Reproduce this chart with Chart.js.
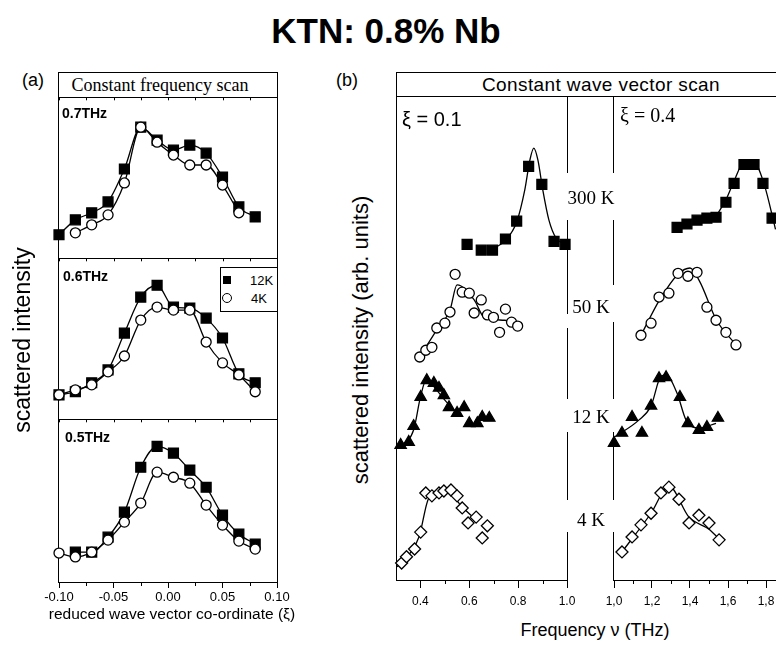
<!DOCTYPE html>
<html><head><meta charset="utf-8">
<script src="https://cdn.jsdelivr.net/npm/chart.js@4.4.1/dist/chart.umd.min.js"></script>
<style>
html,body{margin:0;padding:0;background:#fff;}
#wrap{position:relative;width:776px;height:647px;overflow:hidden;background:#fff;font-family:"Liberation Sans",Arial,sans-serif;color:#000;}
canvas{position:absolute;}
.t{position:absolute;white-space:nowrap;line-height:1;transform:translate(-50%,-50%);}
.tl{position:absolute;white-space:nowrap;line-height:1;transform:translate(0,-50%);}
.rot{position:absolute;white-space:nowrap;line-height:1;transform:translate(-50%,-50%) rotate(-90deg);}
.serif{font-family:"Liberation Serif","Times New Roman",serif;}
.ln{position:absolute;background:#000;}
.box{position:absolute;border:1px solid #000;box-sizing:border-box;}
</style></head>
<body><div id="wrap">
<div class="t" style="left:386px;top:30px;font-size:35px;font-weight:bold;">KTN: 0.8% Nb</div>
<div class="t" style="left:33px;top:80px;font-size:18px;">(a)</div>
<div class="t" style="left:347px;top:80px;font-size:18px;">(b)</div>

<!-- panel (a) frame -->
<div class="box" style="left:58px;top:72px;width:220px;height:511px;"></div>
<div class="ln" style="left:58px;top:97px;width:220px;height:1px;"></div>
<div class="ln" style="left:58px;top:258px;width:220px;height:1px;"></div>
<div class="ln" style="left:58px;top:419px;width:220px;height:1px;"></div>
<div class="t serif" style="left:160px;top:85px;font-size:18px;">Constant frequency scan</div>

<canvas id="a1" width="258" height="177" style="left:39px;top:89px;"></canvas>
<canvas id="a2" width="258" height="177" style="left:39px;top:250px;"></canvas>
<canvas id="a3" width="258" height="215" style="left:39px;top:411px;"></canvas>

<div class="tl" style="left:62px;top:113px;font-size:14px;font-weight:bold;">0.7THz</div>
<div class="tl" style="left:63px;top:276px;font-size:14px;font-weight:bold;">0.6THz</div>
<div class="tl" style="left:65px;top:437px;font-size:14px;font-weight:bold;">0.5THz</div>

<div class="box" style="left:220px;top:267px;width:58px;height:45px;background:#fff;"></div>
<div class="ln" style="left:223px;top:276px;width:8px;height:8px;"></div>
<div class="tl" style="left:250px;top:280px;font-size:13px;">12K</div>
<div style="position:absolute;left:222px;top:293px;width:10px;height:10px;border:1.2px solid #000;border-radius:50%;box-sizing:border-box;background:#fff;"></div>
<div class="tl" style="left:251px;top:298px;font-size:13px;">4K</div>

<div class="rot" style="left:22px;top:340px;font-size:23px;">scattered intensity</div>
<div class="t" style="left:172px;top:614px;font-size:15.5px;">reduced wave vector co-ordinate (ξ)</div>

<!-- panel (b) frame -->
<div class="ln" style="left:396px;top:72px;width:400px;height:1px;"></div>
<div class="ln" style="left:396px;top:96px;width:400px;height:1px;"></div>
<div class="ln" style="left:396px;top:72px;width:1px;height:509px;"></div>
<div id="vlines"></div>
<div class="t" style="left:601px;top:84px;font-size:19px;letter-spacing:0.4px;">Constant wave vector scan</div>

<canvas id="bl" width="211" height="524" style="left:376px;top:88px;"></canvas>
<canvas id="br" width="230" height="524" style="left:594px;top:88px;"></canvas>

<div class="tl" style="left:402px;top:119px;font-size:20px;">ξ = 0.1</div>
<div class="tl serif" style="left:620px;top:115px;font-size:20px;">ξ = 0.4</div>
<div class="t serif" style="left:591px;top:197px;font-size:19px;">300 K</div>
<div class="t serif" style="left:591px;top:306px;font-size:19px;">50 K</div>
<div class="t serif" style="left:591px;top:416px;font-size:19px;">12 K</div>
<div class="t serif" style="left:591px;top:519px;font-size:19px;">4 K</div>
<div class="rot" style="left:361px;top:340px;font-size:22px;">scattered intensity (arb. units)</div>
<div class="t" style="left:595px;top:630px;font-size:18px;">Frequency ν (THz)</div>
</div>
<script>
// ---------- panel (a): constant frequency scans ----------
const xiGrid = [-0.10,-0.085,-0.07,-0.055,-0.04,-0.025,-0.01,0.005,0.02,0.035,0.05,0.065,0.08];
const sq07 = [14.3,23.6,28.0,34.8,55.3,81.4,73.3,67.1,70.2,65.2,50.3,31.7,25.5];
const ci07 = [null,15.5,20.5,26.7,46.6,81.4,72.0,64.0,57.8,57.8,45.3,28.0,null];
const sq06 = [14.9,16.8,22.4,30.4,53.4,75.8,83.2,69.6,68.9,62.7,50.3,28.0,22.4];
const ci06 = [14.9,18.0,21.1,29.2,39.1,61.5,69.6,67.7,67.7,47.8,34.8,27.3,16.8];
const sq05 = [null,18.9,18.9,28.0,43.3,70.7,83.5,79.3,68.9,58.5,41.5,29.9,23.8];
const ci05 = [18.3,15.9,18.9,26.2,37.2,48.8,67.7,64.6,61.0,47.6,35.4,25.6,20.7];
const aTicks = [-0.10,-0.05,0,0.05,0.10];
const aTickLabels = ['-0.10','-0.05','0.00','0.05','0.10'];
const aMinor = [-0.075,-0.025,0.025,0.075];

// ---------- panel (b): constant wave vector scans ----------
// xi = 0.1
const nu300L = [0.591,0.649,0.695,0.748,0.794,0.843,0.897,0.947,0.992];
const i300L  = [69.4,68.2,68.2,70.5,74.2,85.5,81.8,70.0,69.4];
const fnu300L = [0.695,0.748,0.794,0.827,0.848,0.864,0.881,0.901,0.926,0.955,0.992];
const fi300L  = [68.4,70.2,74.0,80.6,86.8,89.3,86.8,80.6,74.4,70.7,69.4];
const nu50L = [0.397,0.422,0.447,0.467,0.5,0.521,0.542,0.571,0.6,0.620,0.649,0.674,0.699,0.724,0.748,0.773,0.798];
const i50L  = [46.1,47.5,48.1,52.1,53.1,55.4,63.2,59.5,59.3,55.2,57.9,54.8,54.3,51.2,56.0,53.3,52.5];
const fnu50L = [0.397,0.467,0.521,0.550,0.620,0.661,0.744,0.798];
const fi50L  = [46.1,51.7,55.8,61.0,57.9,54.3,53.7,53.1];
const nu12L = [0.319,0.352,0.372,0.401,0.426,0.455,0.476,0.496,0.517,0.550,0.579,0.600,0.633,0.653,0.682];
const i12L  = [27.9,28.5,31.8,37.8,41.3,40.7,39.7,38.2,35.7,34.5,35.7,32.4,32.4,33.7,33.5];
const fnu12L = [0.31,0.372,0.40,0.426,0.45,0.50,0.55];
const fi12L  = [27.5,31.0,37.8,41.7,40.3,37.2,34.5];
const nu4L = [0.323,0.343,0.376,0.401,0.422,0.447,0.476,0.496,0.525,0.550,0.571,0.595,0.628,0.653,0.674];
const i4L  = [3.5,4.8,6.4,9.9,18.0,17.4,18.0,18.4,18.6,17.4,14.9,11.8,13.0,8.7,11.2];
const fnu4L = [0.305,0.394,0.434,0.505,0.571,0.628];
const fi4L  = [2.7,8.9,16.9,18.6,15.1,12.4];
// xi = 0.4
const nu300R = [1.332,1.384,1.437,1.489,1.537,1.589,1.632,1.684,1.711,1.737,1.784,1.832];
const i300R  = [72.9,73.6,74.4,74.8,75.0,78.1,82.0,85.9,85.9,85.9,82.0,74.8];
const fnu300R = [1.55,1.589,1.632,1.684,1.737,1.789,1.85];
const fi300R  = [76.0,78.6,82.5,86.3,86.3,82.0,72.5];
const nu50R = [1.142,1.195,1.237,1.289,1.337,1.389,1.437,1.489,1.537,1.589,1.642];
const i50R  = [50.6,53.1,58.5,59.3,63.4,62.8,63.6,56.4,53.7,51.2,48.6];
const fnu50R = [1.142,1.24,1.337,1.40,1.45,1.54,1.642];
const fi50R  = [50.6,57.9,63.2,64.5,61.8,53.7,48.6];
const nu12R = [1.0,1.042,1.095,1.147,1.195,1.237,1.274,1.347,1.389,1.447,1.489,1.547];
const i12R  = [28.3,30.4,33.7,30.4,36.0,41.7,41.9,37.8,32.4,31.0,31.6,33.5];
const fnu12R = [1.0,1.132,1.195,1.247,1.274,1.332,1.379,1.447,1.537];
const fi12R  = [29.5,33.1,36.0,42.1,42.4,38.6,33.1,31.4,32.4];
const nu4R = [1.042,1.095,1.142,1.195,1.247,1.289,1.342,1.395,1.447,1.5,1.553];
const i4R  = [5.8,8.9,11.4,13.8,18.0,19.2,16.7,11.8,13.4,11.8,8.3];
const fnu4R = [1.042,1.195,1.289,1.395,1.5,1.553];
const fi4R  = [5.8,13.8,19.4,13.0,10.5,8.5];
const bLeftTicks = [0.4,0.6,0.8,1.0];
const bLeftLabels = ['0.4','0.6','0.8','1.0'];
const bLeftMinor = [0.5,0.7,0.9];
const bRightTicks = [1.0,1.2,1.4,1.6,1.8];
const bRightLabels = ['1,0','1,2','1,4','1,6','1,8'];
const bRightMinor = [1.1,1.3,1.5,1.7,1.9];

// ---------- helpers ----------
const K = '#000';
const SANS = '"Liberation Sans", Arial, sans-serif';
function pts(xs, ys){ return xs.map((x,i)=>({x:x, y:ys[i]})).filter(p=>p.y!==null); }
function marks(xs, ys, style, filled, r){
  return {data:pts(xs,ys), showLine:false, pointStyle:style, pointRadius:r, pointHoverRadius:r,
    pointBackgroundColor: filled ? K : '#fff', pointBorderColor:K, pointBorderWidth:1.3, clip:false};
}
function curve(xs, ys){
  return {data:pts(xs,ys), showLine:true, pointRadius:0, pointHoverRadius:0, borderColor:K, borderWidth:1.3,
    cubicInterpolationMode:'monotone', fill:false, clip:false};
}
// extra tick marks (minor below the axis, small inward marks on the top edge) placed through the x scale
const extraTicks = {
  id:'extraTicks',
  afterDraw(chart, args, o){
    const xs = chart.scales.x, ctx = chart.ctx, ca = chart.chartArea;
    ctx.save(); ctx.strokeStyle = K; ctx.lineWidth = 1; ctx.beginPath();
    (o.minor || []).forEach(v => { const p = Math.round(xs.getPixelForValue(v)) + 0.5;
      ctx.moveTo(p, ca.bottom); ctx.lineTo(p, ca.bottom + o.minorLen); });
    (o.top || []).forEach(v => { const p = Math.round(xs.getPixelForValue(v)) + 0.5;
      ctx.moveTo(p, ca.top); ctx.lineTo(p, ca.top + o.topLen); });
    ctx.stroke(); ctx.restore();
  }
};
function build(id, datasets, xmin, xmax, pad, axis, extra){
  const x = {type:'linear', min:xmin, max:xmax, display:!!axis};
  if (axis){
    Object.assign(x, {
      afterBuildTicks: s => { s.ticks = axis.ticks.map(v => ({value:v})); },
      afterFit: s => { s.height = axis.height; },
      border:{display:axis.border, color:K, width:1},
      grid:{display:true, drawOnChartArea:false, drawTicks:true, tickLength:axis.tickLength, tickColor:K, tickWidth:1},
      ticks:{callback:(v,i)=>axis.labels[i], color:K, font:{family:SANS, size:axis.fontSize}, padding:axis.pad, maxRotation:0, autoSkip:false},
      title:{display:false}
    });
  }
  return new Chart(document.getElementById(id), {
    type:'scatter',
    data:{datasets},
    plugins:[extraTicks],
    options:{
      responsive:false, animation:false, devicePixelRatio:1, events:[],
      layout:{padding:pad},
      plugins:{legend:{display:false}, tooltip:{enabled:false}, extraTicks: extra || {}},
      scales:{x, y:{type:'linear', min:0, max:100, display:false}}
    }
  });
}
function aSets(sq, ci){
  return [marks(xiGrid, ci, 'circle', false, 5), marks(xiGrid, sq, 'rect', true, 7),
          curve(xiGrid, ci), curve(xiGrid, sq)];
}
const padA = {left:20, right:20, top:8, bottom:8};
const topA = {top:aTicks.concat(aMinor), topLen:3};
build('a1', aSets(sq07, ci07), -0.10, 0.10, padA, null, topA);
build('a2', aSets(sq06, ci06), -0.10, 0.10, padA, null, topA);
build('a3', aSets(sq05, ci05), -0.10, 0.10, {left:20, right:20, top:8, bottom:2},
  {ticks:aTicks, labels:aTickLabels, height:41, tickLength:5, pad:2, fontSize:13, border:false},
  {minor:aMinor, minorLen:3, top:aTicks.concat(aMinor), topLen:3});

const padB = {left:20, right:20, top:8, bottom:2};
build('bl', [
  marks(nu300L, i300L, 'rect', true, 7), marks(nu50L, i50L, 'circle', false, 5),
  marks(nu12L, i12L, 'triangle', true, 6.5), marks(nu4L, i4L, 'rectRot', false, 6),
  curve(fnu300L, fi300L), curve(fnu50L, fi50L), curve(fnu12L, fi12L), curve(fnu4L, fi4L)
], 0.3, 1.0, padB, {ticks:bLeftTicks, labels:bLeftLabels, height:30, tickLength:8, pad:6, fontSize:12, border:true},
  {minor:bLeftMinor, minorLen:4});
build('br', [
  marks(nu300R, i300R, 'rect', true, 7), marks(nu50R, i50R, 'circle', false, 5),
  marks(nu12R, i12R, 'triangle', true, 6.5), marks(nu4R, i4R, 'rectRot', false, 6),
  curve(fnu300R, fi300R), curve(fnu50R, fi50R), curve(fnu12R, fi12R), curve(fnu4R, fi4R)
], 1.0, 2.0, padB, {ticks:bRightTicks, labels:bRightLabels, height:30, tickLength:8, pad:6, fontSize:12, border:true},
  {minor:bRightMinor, minorLen:4});

// broken vertical frame lines between the two sub-panels (b)
const segL = [[96,172],[220,313],[328,398],[432,499],[532,580]];
const segR = [[96,172],[220,284],[322,398],[432,499],[532,580]];
const vl = document.getElementById('vlines');
function seg(x, s){ s.forEach(([a,b]) => { const d = document.createElement('div'); d.className='ln';
  d.style.cssText = 'left:'+x+'px;top:'+a+'px;width:1px;height:'+(b-a+1)+'px;'; vl.appendChild(d); }); }
seg(567, segL); seg(613, segR);
</script>
</body></html>
